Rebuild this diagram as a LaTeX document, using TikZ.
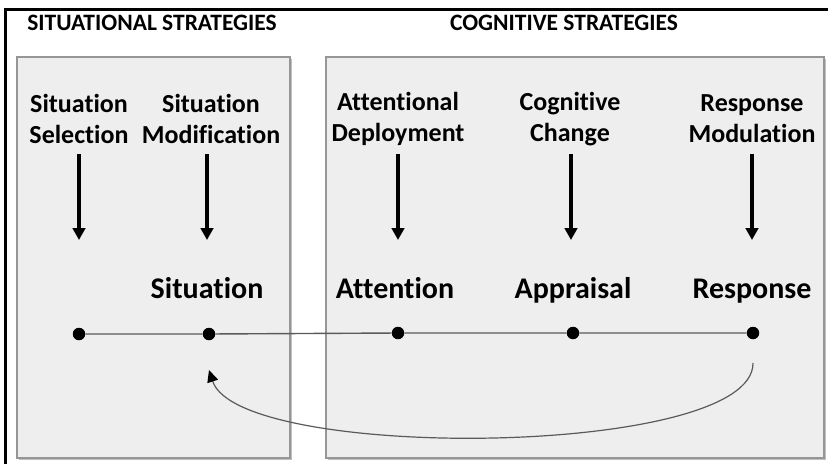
\documentclass[tikz,border=0pt]{standalone}
\usepackage{fontspec}
\setmainfont{Carlito}[Ligatures=NoCommon]
\usetikzlibrary{arrows.meta}

\definecolor{panelfill}{RGB}{238,238,238}
\definecolor{paneledge}{RGB}{150,150,150}
\definecolor{linegray}{RGB}{90,90,90}

\begin{document}
\begin{tikzpicture}[x=1pt, y=-1pt]
\useasboundingbox (0,0) rectangle (828,464);

% frame (left and top edge only)
\draw[line width=3pt] (5,464) -- (5,9) -- (828,9);

% panels
\tikzset{PanelStyle/.style = {fill=panelfill, draw=paneledge, line width=1.2pt} }
\fill[black!25] (19,59) rectangle (292,460);
\draw[PanelStyle] (17,57) rectangle (290,458);
\fill[black!25] (328,59) rectangle (826,460);
\draw[PanelStyle] (326,57) rectangle (824,458);

\node[font=\bfseries\fontsize{23.5}{28}\selectfont] (H1) at (152,23) {SITUATIONAL STRATEGIES};
\node[font=\bfseries\fontsize{23.5}{28}\selectfont] (H2) at (564,23) {COGNITIVE STRATEGIES};

% strategies
\tikzset{StrategyStyle/.style = {
 align = center,
 font = \bfseries\fontsize{26}{31}\selectfont,
 inner sep = 0pt} }

\node[StrategyStyle] (S1) at (79,119) {Situation\\Selection};
\node[StrategyStyle] (S2) at (211,119) {Situation\\Modification};
\node[StrategyStyle] (S3) at (398,119) {Attentional\\Deployment};
\node[StrategyStyle] (S4) at (570,119) {Cognitive\\Change};
\node[StrategyStyle] (S5) at (752,119) {Response\\Modulation};

\coordinate (A1) at (79,154);  \coordinate (B1) at (79,240);
\coordinate (A2) at (207,154); \coordinate (B2) at (207,240);
\coordinate (A3) at (398,154); \coordinate (B3) at (398,240);
\coordinate (A4) at (571,154); \coordinate (B4) at (571,240);
\coordinate (A5) at (752,154); \coordinate (B5) at (752,240);

\tikzset{ArrowStyle/.style = {line width=3.4pt, -{Triangle[length=12pt, width=12.5pt]}} }

\draw[ArrowStyle] (A1) -- (B1);
\draw[ArrowStyle] (A2) -- (B2);
\draw[ArrowStyle] (A3) -- (B3);
\draw[ArrowStyle] (A4) -- (B4);
\draw[ArrowStyle] (A5) -- (B5);

% stages
\tikzset{StageStyle/.style = {
 anchor = base,
 font = \bfseries\fontsize{30}{34}\selectfont,
 inner sep = 0pt} }

\node[StageStyle] (T2) at (207,298) {Situation};
\node[StageStyle] (T3) at (395,298) {Attention};
\node[StageStyle] (T4) at (573,298) {Appraisal};
\node[StageStyle] (T5) at (752,298) {Response};

\tikzset{DotStyle/.style = {
 shape = circle,
 fill = black,
 inner sep = 0pt,
 minimum size = 12.5pt} }

\node[DotStyle] (D1) at (79,334) {};
\node[DotStyle] (D2) at (209,334) {};
\node[DotStyle] (D3) at (398,333) {};
\node[DotStyle] (D4) at (573,333) {};
\node[DotStyle] (D5) at (753,333) {};

\draw[linegray, line width=1.4pt] (D1) -- (D2) -- (D3) -- (D4) -- (D5);

% feedback loop
\draw[linegray, line width=1.2pt, -{Triangle[length=12pt, width=11pt, color=black]}]
 ([yshift=-30pt]D5.center) .. controls +(1,95) and +(30,92) .. ([yshift=-36pt]D2.center);

\end{tikzpicture}
\end{document}
